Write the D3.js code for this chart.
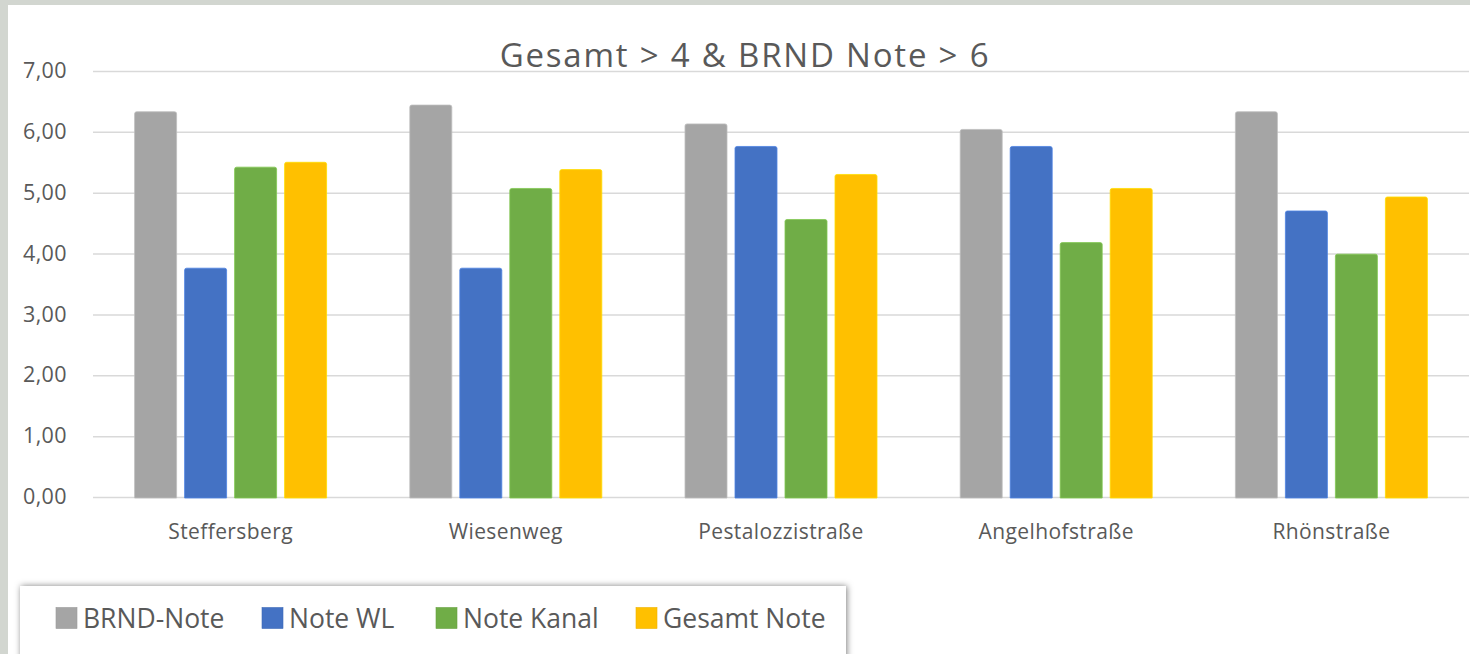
<!DOCTYPE html>
<html>
<head>
<meta charset="utf-8">
<script src="https://cdn.jsdelivr.net/npm/d3@7"></script>
<style>
  html, body { margin: 0; padding: 0; background: #d2d6d0; }
  svg { display: block; }
</style>
</head>
<body>
<svg id="chart" width="1470" height="654"></svg>
<script>
// Categories (streets) and series
const categories = ["Steffersberg", "Wiesenweg", "Pestalozzistraße", "Angelhofstraße", "Rhönstraße"];
const seriesNames = ["BRND-Note", "Note WL", "Note Kanal", "Gesamt Note"];
const seriesColors = ["#A5A5A5", "#4472C4", "#70AD47", "#FFC000"];

const brndNote   = [6.33, 6.44, 6.13, 6.04, 6.33];
const noteWL     = [3.76, 3.76, 5.76, 5.76, 4.70];
const noteKanal  = [5.42, 5.07, 4.56, 4.18, 3.99];
const gesamtNote = [5.50, 5.38, 5.30, 5.07, 4.93];

const yTicks = [0, 1, 2, 3, 4, 5, 6, 7];
const titleText = "Gesamt > 4 & BRND Note > 6";

const seriesValues = [brndNote, noteWL, noteKanal, gesamtNote];
const rows = categories.map((c, i) => ({
  cat: c,
  vals: seriesNames.map((s, j) => ({ key: s, color: seriesColors[j], value: seriesValues[j][i] }))
}));

const svg = d3.select("#chart");
const W = 1470, H = 654;
const font = "'Open Sans', 'Noto Sans', sans-serif";
const textColor = "#595959";

// chart panel
svg.append("rect").attr("x", 8).attr("y", 5).attr("width", W - 8).attr("height", H - 5).attr("fill", "#ffffff");

const plot = { left: 93, right: 1469, top: 71, bottom: 497 };

const y = d3.scaleLinear().domain([0, 7]).range([plot.bottom, plot.top]);
const x0 = d3.scaleBand().domain(categories).range([plot.left, plot.right]).paddingInner(0).paddingOuter(0);
const x1 = d3.scaleBand().domain(seriesNames).range([0, x0.bandwidth()]).paddingInner(0.16).paddingOuter(0.832);

// gridlines and value labels
const yAxis = d3.axisLeft(y).tickValues(yTicks)
  .tickSize(-(plot.right - plot.left))
  .tickFormat(d => d3.format(".2f")(d).replace(".", ","));
const gy = svg.append("g").attr("transform", `translate(${plot.left},0)`).call(yAxis);
gy.select(".domain").remove();
gy.selectAll(".tick line").attr("stroke", "#d9d9d9").attr("stroke-width", 1.5);
gy.selectAll(".tick text")
  .attr("x", -26)
  .attr("dy", "0.31em")
  .attr("fill", textColor)
  .style("font-family", font)
  .style("font-size", "21.5px")
  .style("letter-spacing", "0.4px");

// bars
const groups = svg.append("g").selectAll("g")
  .data(rows).join("g")
  .attr("transform", d => `translate(${x0(d.cat)},0)`);

groups.selectAll("path")
  .data(d => d.vals).join("path")
  .attr("d", d => {
    const bx = x1(d.key), bw = x1.bandwidth();
    const top = y(d.value), bot = y(0) + 1, r = 2;
    return `M${bx},${bot} L${bx},${top + r} Q${bx},${top} ${bx + r},${top} L${bx + bw - r},${top} Q${bx + bw},${top} ${bx + bw},${top + r} L${bx + bw},${bot} Z`;
  })
  .attr("fill", d => d.color)
  .attr("stroke", d => d3.color(d.color).brighter(0.4))
  .attr("stroke-width", 0.8);

// category axis
const xAxis = d3.axisBottom(x0).tickSize(0).tickPadding(0);
const gx = svg.append("g").attr("transform", `translate(0,${plot.bottom})`).call(xAxis);
gx.select(".domain").remove();
gx.selectAll(".tick text")
  .attr("y", 42)
  .attr("dy", "0")
  .attr("fill", textColor)
  .style("font-family", font)
  .style("font-size", "21px")
  .style("letter-spacing", "0.4px");

// title
svg.append("text")
  .attr("x", 745).attr("y", 67)
  .attr("text-anchor", "middle")
  .attr("fill", textColor)
  .style("font-family", font)
  .style("font-size", "33px")
  .style("letter-spacing", "1.8px")
  .text(titleText);

// legend
const defs = svg.append("defs");
const f = defs.append("filter").attr("id", "shadow").attr("x", "-5%").attr("y", "-30%").attr("width", "110%").attr("height", "160%");
f.append("feDropShadow").attr("dx", 1).attr("dy", 0).attr("stdDeviation", 3).attr("flood-color", "#000").attr("flood-opacity", 0.5);

const legend = svg.append("g");
legend.append("rect")
  .attr("x", 20).attr("y", 586).attr("width", 826).attr("height", 75)
  .attr("fill", "#ffffff")
  .attr("filter", "url(#shadow)");

const legendX = [56, 262, 436, 636];
const items = legend.selectAll("g.item")
  .data(seriesNames).join("g")
  .attr("class", "item")
  .attr("transform", (d, i) => `translate(${legendX[i]},607.5)`);
items.append("rect")
  .attr("width", 21).attr("height", 21)
  .attr("fill", (d, i) => seriesColors[i])
  .attr("stroke", (d, i) => d3.color(seriesColors[i]).darker(0.2))
  .attr("stroke-width", 0.6);
items.append("text")
  .attr("x", 27).attr("y", 20)
  .attr("fill", textColor)
  .style("font-family", font)
  .style("font-size", "26.5px")
  .text(d => d);
</script>
</body>
</html>
